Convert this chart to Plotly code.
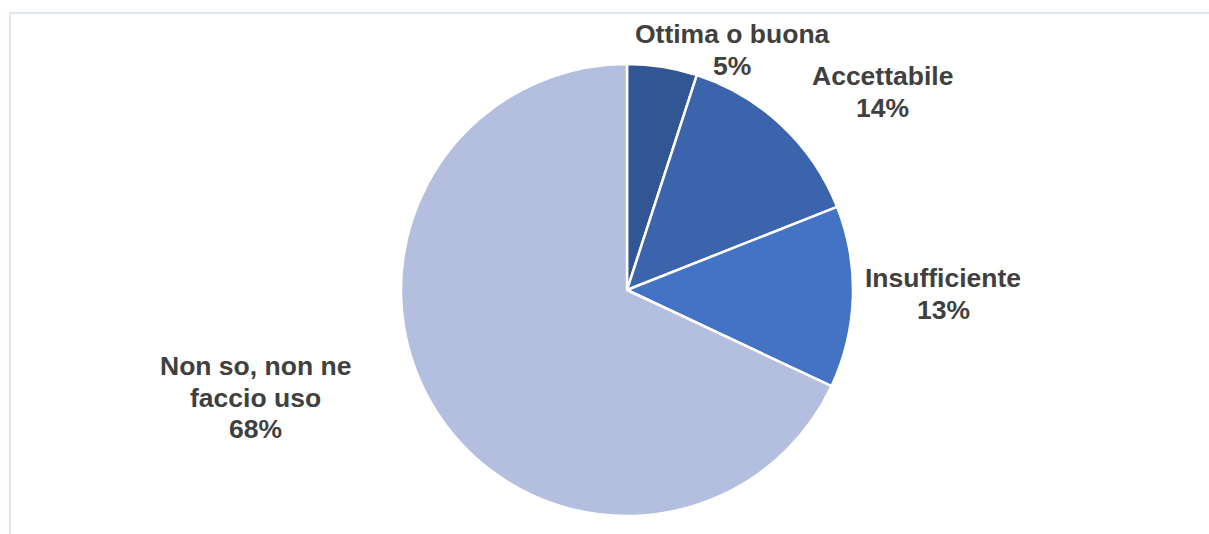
import plotly.graph_objects as go

categories = ["Ottima o buona", "Accettabile", "Insufficiente", "Non so, non ne faccio uso"]
values = [5, 14, 13, 68]
colors = ["#325694", "#3b64ad", "#4472c4", "#b4bfdf"]

# category names wrapped into lines for the outside labels
label_lines = [["Ottima o buona"], ["Accettabile"], ["Insufficiente"], ["Non so, non ne", "faccio uso"]]

W, H = 1209, 534
# pixel anchor (centre x, first-line centre y) for each label block
label_px = [(732, 34), (882, 76), (943, 278), (255, 366)]
LINE_STEP = 31.5

fig = go.Figure(go.Pie(
    labels=categories,
    values=values,
    sort=False,
    direction="clockwise",
    rotation=0,
    marker=dict(colors=colors, line=dict(color="white", width=2.5)),
    textinfo="none",
    hoverinfo="label+percent",
    showlegend=False,
    domain=dict(x=[401 / W, 853 / W], y=[1 - 516 / H, 1 - 64 / H]),
))

total = sum(values)
annotations = []
for lines, v, (px, py) in zip(label_lines, values, label_px):
    pct = f"{round(100 * v / total)}%"
    for i, line in enumerate(lines + [pct]):
        annotations.append(dict(
            x=px / W, y=1 - (py + i * LINE_STEP) / H, xref="paper", yref="paper",
            text=f"<b>{line}</b>",
            showarrow=False, xanchor="center", yanchor="middle",
            font=dict(family="Liberation Sans, Arial, sans-serif", size=26.5, color="#404040"),
            align="center",
        ))

fig.update_layout(
    width=W, height=H,
    margin=dict(l=0, r=0, t=0, b=0),
    paper_bgcolor="white",
    plot_bgcolor="white",
    annotations=annotations,
    shapes=[dict(type="rect", xref="paper", yref="paper",
                 x0=10 / W, x1=1.01, y0=-0.01, y1=1 - 13 / H,
                 line=dict(color="#dde6f1", width=2), fillcolor="rgba(0,0,0,0)",
                 layer="below")],
)

fig.write_html("out.html")
